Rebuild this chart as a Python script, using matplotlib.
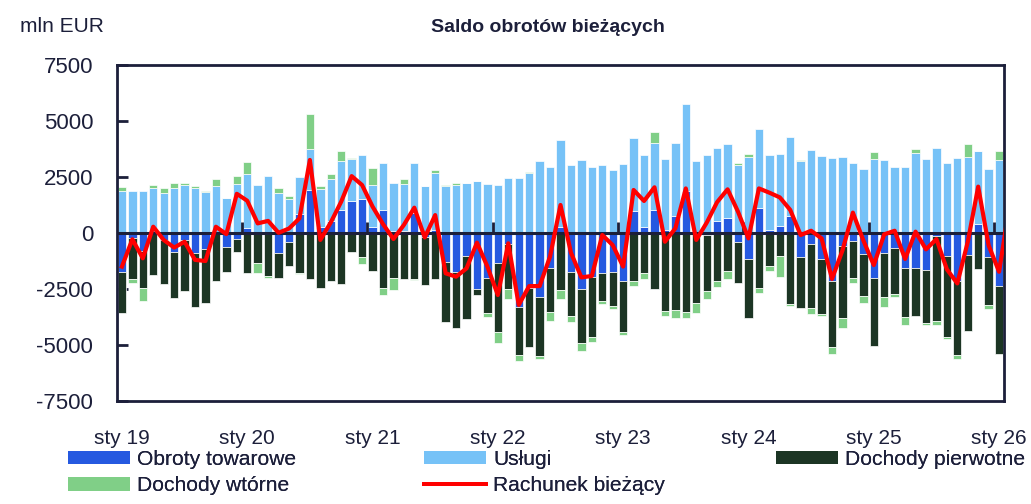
import numpy as np
import matplotlib
matplotlib.use("Agg")
import matplotlib.pyplot as plt
from matplotlib.patches import Patch
from matplotlib.lines import Line2D

plt.rcParams['font.family'] = ['Liberation Sans', 'DejaVu Sans']
plt.rcParams['axes.unicode_minus'] = False

# Monthly data, Jan 2019 - Feb 2026 (mln EUR)
goods = [-1730, -240, -820, 0, -310, -830, -310, -880, -730, 0, -640, -270,
         210, 0, 0, -880, -390, 850, 1920, 280, 540, 1030, 1440, 1520,
         280, 1030, 70, 70, 910, -180, 130, -1280, -1760, -1010, -2510, -1990,
         -1320, -510, -3320, -2440, -2840, -1580, 280, -1760, -2500, -1950, -1800, -1730,
         -2160, 980, 280, 1010, 130, 760, 1890, 0, -90, 540, 670, -390,
         -1180, 1100, 130, 310, 770, -1060, -490, -1180, -2130, -570, -360, -950,
         -2020, -880, -650, -1580, -1550, -1640, -120, -1010, -2130, -980, 400, -1090,
         -2350, -600]
services = [1870, 1870, 1870, 2020, 1800, 2020, 2140, 2020, 1850, 2110, 1550, 2200,
            2430, 2140, 2530, 1800, 1530, 1640, 1815, 1670, 1850, 2200, 1860, 1980,
            1860, 2110, 2140, 2110, 2230, 2100, 2530, 2110, 2140, 2220, 2320, 2190,
            2130, 2440, 2470, 2690, 3210, 2930, 3850, 3040, 3270, 2960, 3040, 2800,
            3070, 3240, 3210, 3020, 3180, 3240, 3850, 3230, 3480, 3240, 3290, 3020,
            3380, 3530, 3360, 3200, 3510, 3210, 3710, 3420, 3360, 3380, 3140, 2860,
            3300, 3260, 2960, 2950, 3560, 3320, 3790, 3110, 3360, 3410, 3270, 2860,
            3260, 3630]
primary = [-1860, -1815, -1650, -1875, -1980, -2080, -2300, -2410, -2410, -2140, -1120, -580,
           -1770, -1350, -1920, -1150, -1070, -1800, -2050, -2440, -2130, -2260, -860, -1060,
           -1680, -2470, -1990, -2050, -2050, -2140, -2070, -2690, -2470, -2840, -270, -1590,
           -3120, -2010, -2130, -2630, -2650, -1960, -2540, -1950, -2400, -2710, -1240, -1530,
           -2250, -2160, -1800, -2480, -3480, -3440, -3510, -3140, -2500, -2140, -1710, -1860,
           -2600, -2470, -1460, -1030, -3180, -2290, -2870, -2440, -2950, -3240, -1670, -1860,
           -3020, -1960, -2070, -2190, -2160, -2400, -3810, -3650, -3320, -3390, -1620, -2130,
           -3070, -1800]
secondary = [180, -165, -550, 120, 190, 210, 90, 60, 30, 280, 10, 360,
             540, -450, -100, 220, 120, -45, 1560, 150, 250, 420, 70, -330,
             770, -300, -550, 210, -45, 0, 160, 30, 90, 30, 0, -150,
             -480, -420, -250, 30, -120, -390, -390, -250, -360, -210, -120, -120,
             -160, -190, -250, 460, -220, -340, -270, -420, -370, -280, -340, 120,
             130, -190, -240, -920, -100, 45, -270, -90, -340, -420, -220, -330,
             310, -480, -150, -340, 190, -45, -180, -70, -190, 570, 0, -190,
             420, 50]
current = [-1500, -280, -1130, 280, -310, -650, -390, -1200, -1250, 280, -50, 1750,
           1440, 430, 540, 10, 200, 650, 3260, -310, 470, 1400, 2540, 2140,
           1180, 400, -270, 360, 1130, -200, 800, -1800, -1950, -1580, -430, -1500,
           -2770, -460, -3210, -2370, -2370, -1050, 1250, -880, -1980, -1920, -90, -540,
           -1500, 1920, 1430, 2040, -390, 210, 1990, -310, 460, 1380, 1950, 950,
           -240, 1990, 1800, 1590, 1030, -90, 100, -240, -2050, -780, 910, -330,
           -1430, -60, 100, -1160, 60, -730, -270, -1620, -2250, -400, 2070, -550,
           -1730, 1250]
tick_labels = ['sty 19', 'sty 20', 'sty 21', 'sty 22', 'sty 23', 'sty 24', 'sty 25', 'sty 26']
y_ticks = [-7500, -5000, -2500, 0, 2500, 5000, 7500]

labels = ['Obroty towarowe', 'Usługi', 'Dochody pierwotne', 'Dochody wtórne', 'Rachunek bieżący']
colors = ['#2559e0', '#76c2f7', '#1c3524', '#80cf87']
navy = '#1c1f3a'

n = len(goods)
x = np.arange(n)

fig = plt.figure(figsize=(10.31, 5.04), dpi=100)
ax = fig.add_axes([116.7 / 1031, 1 - 401 / 504, (1004.3 - 116.7) / 1031, (401 - 65) / 504])

pos_bottom = np.zeros(n)
neg_bottom = np.zeros(n)
for vals, col in zip([goods, services, primary, secondary], colors):
    v = np.array(vals, dtype=float)
    bottom = np.where(v >= 0, pos_bottom, neg_bottom)
    ax.bar(x, v, bottom=bottom, width=0.8, color=col, edgecolor='white', linewidth=0.5, zorder=2)
    pos_bottom = pos_bottom + np.where(v >= 0, v, 0)
    neg_bottom = neg_bottom + np.where(v < 0, v, 0)

ax.axhline(0, color=navy, lw=2.2, zorder=3)
ax.plot(x, current, color='#ff0000', lw=3.0, zorder=6, solid_joinstyle='round')

ax.set_xlim(-0.5, 84.5)
ax.set_ylim(-7500, 7500)
ax.set_yticks(y_ticks)
ax.set_yticklabels([str(t) for t in y_ticks])
ax.tick_params(axis='y', direction='in', length=8, width=2, color=navy, pad=17,
               labelsize=16, labelcolor=navy)
ax.set_xticks(np.arange(0, n, 12)[:len(tick_labels)])
ax.set_xticklabels(tick_labels)
ax.tick_params(axis='x', length=0, pad=20, labelsize=15, labelcolor=navy)
for sp in ax.spines.values():
    sp.set_color(navy)
    sp.set_linewidth(2)

year_bounds = np.arange(11.5, 84, 12)
secax = ax.secondary_xaxis(0.5)
secax.set_xticks(year_bounds)
secax.set_xticklabels([''] * len(year_bounds))
secax.tick_params(axis='x', which='both', direction='out', length=8, width=2, color=navy,
                  labelbottom=False, labeltop=False)
secax.spines['bottom'].set_visible(False)
secax.spines['top'].set_visible(False)
secax.set_zorder(5)

fig.text(20 / 1031, 1 - 27 / 504, 'mln EUR', ha='left', va='center', fontsize=15, color=navy)
fig.text(548 / 1031, 1 - 27 / 504, 'Saldo obrotów bieżących', ha='center', va='center',
         fontsize=14, fontweight='bold', color=navy)

handles = [Patch(facecolor=c) for c in colors] + [Line2D([0], [0], color='#ff0000', lw=2.8)]
legend_kw = dict(frameon=False, borderpad=0, borderaxespad=0, handlelength=2.95, handleheight=0.6,
                 handletextpad=0.35, labelspacing=0.35, fontsize=15.1, loc='upper left',
                 labelcolor=navy)
cols = [([0, 3], 68), ([1, 4], 424), ([2], 776)]
for idx, xpx in cols:
    leg = fig.legend([handles[i] for i in idx], [labels[i] for i in idx],
                     bbox_to_anchor=(xpx / 1031, 1 - 450 / 504), **legend_kw)
    fig.add_artist(leg)

fig.savefig('out.png', dpi=100)
